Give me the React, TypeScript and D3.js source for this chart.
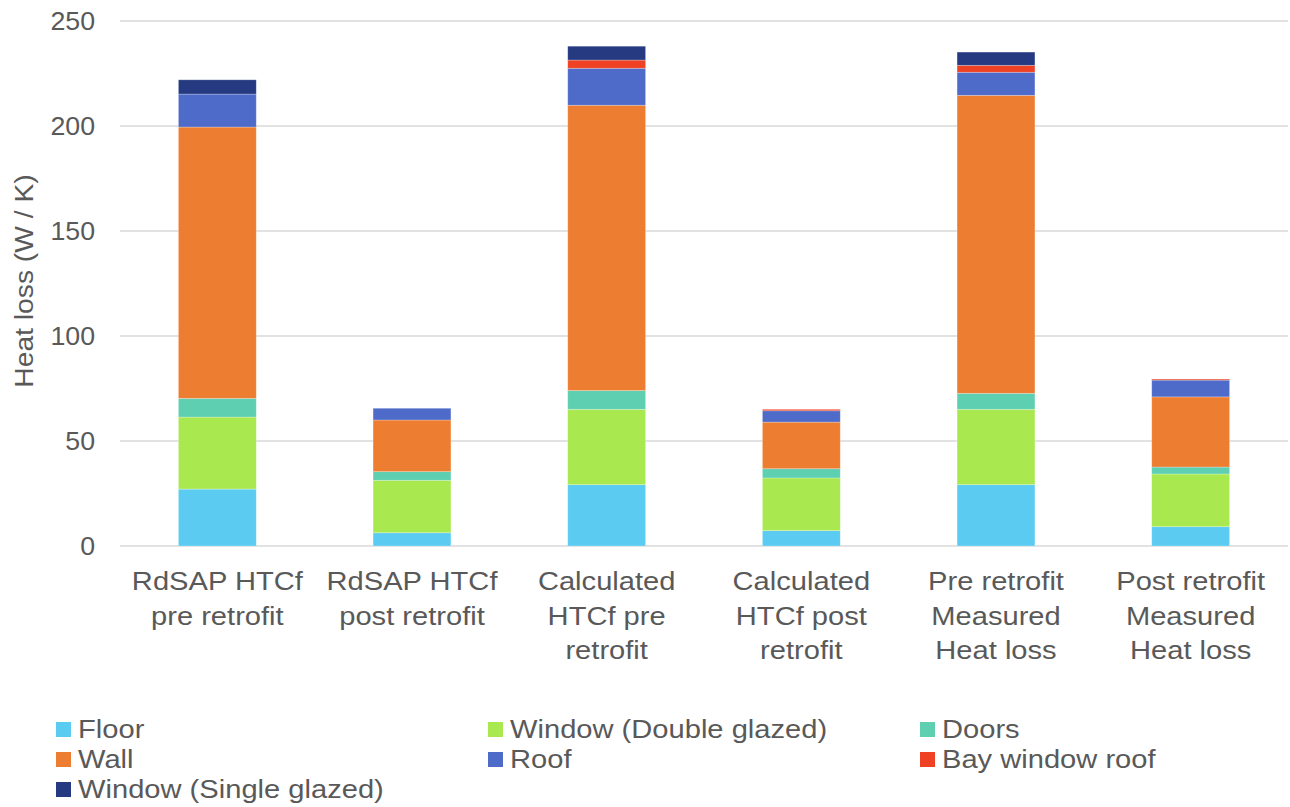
import React from "react";
import * as d3 from "d3";

const categories: string[][] = [
  ["RdSAP HTCf", "pre retrofit"],
  ["RdSAP HTCf", "post retrofit"],
  ["Calculated", "HTCf pre", "retrofit"],
  ["Calculated", "HTCf post", "retrofit"],
  ["Pre retrofit", "Measured", "Heat loss"],
  ["Post retrofit", "Measured", "Heat loss"],
];

const seriesNames = [
  "Floor",
  "Window (Double glazed)",
  "Doors",
  "Wall",
  "Roof",
  "Bay window roof",
  "Window (Single glazed)",
];

const seriesColors = ["#5ccbf2", "#a9e84f", "#5ecfb1", "#ed7d31", "#4f6bc9", "#ef4123", "#253a80"];

const floor = [27.1, 6.3, 29.2, 7.3, 29.2, 9.2];
const windowDouble = [34.3, 25.0, 35.9, 25.1, 35.9, 25.1];
const doors = [8.9, 4.1, 8.9, 4.4, 7.6, 3.3];
const wall = [129.2, 24.6, 135.9, 22.2, 141.9, 33.4];
const roof = [15.7, 5.6, 17.6, 5.4, 11.0, 8.0];
const bayRoof = [0, 0, 3.9, 0.7, 3.3, 0.5];
const windowSingle = [6.8, 0, 6.6, 0, 6.3, 0];

const yTicks = [0, 50, 100, 150, 200, 250];

const W = 1290;
const H = 807;
const left = 120;
const right = 1288;
const top = 21;
const bottom = 546;
const FONT = "'Liberation Sans', Arial, sans-serif";
const TEXT = "#595959";
const STRETCH = 1.12;

// Text drawn with a slight horizontal widening, anchored at (x, y).
function WideText(props: {
  x: number;
  y: number;
  size: number;
  anchor?: "start" | "middle" | "end";
  stretch?: number;
  dy?: string;
  children: React.ReactNode;
}) {
  const { x, y, size, anchor = "start", stretch = STRETCH, dy, children } = props;
  return (
    <g transform={`translate(${x},${y}) scale(${stretch},1)`}>
      <text x={0} y={0} dy={dy} textAnchor={anchor} fontSize={size} fill={TEXT}>
        {children}
      </text>
    </g>
  );
}

export default function App() {
  const seriesValues = [floor, windowDouble, doors, wall, roof, bayRoof, windowSingle];
  const rows = categories.map((_, i) => {
    const r: Record<string, number> = { idx: i };
    seriesNames.forEach((n, s) => (r[n] = seriesValues[s][i]));
    return r;
  });
  const stacked = d3.stack<Record<string, number>>().keys(seriesNames)(rows);

  const x = d3
    .scaleBand<number>()
    .domain(categories.map((_, i) => i))
    .range([left, right])
    .paddingInner(0.6)
    .paddingOuter(0.3);
  const y = d3.scaleLinear().domain([0, 250]).range([bottom, top]);

  const legendCols = [56, 488, 920];

  return (
    <svg
      width={W}
      height={H}
      style={{ position: "absolute", left: 0, top: 0, background: "#fff" }}
      fontFamily={FONT}
    >
      {yTicks.map((t) => (
        <g key={t}>
          <line x1={left} x2={right} y1={y(t)} y2={y(t)} stroke="#d9d9d9" strokeWidth={1.5} />
          <WideText x={95} y={y(t)} dy="0.35em" anchor="end" size={25} stretch={1.07}>
            {t}
          </WideText>
        </g>
      ))}
      <text
        transform={`translate(33, 281) rotate(-90) scale(1.13,1)`}
        textAnchor="middle"
        fontSize={25}
        fill={TEXT}
      >
        Heat loss (W / K)
      </text>

      {stacked.map((layer, s) => (
        <g key={layer.key} fill={seriesColors[s]}>
          {layer.map((d, i) =>
            d[1] - d[0] > 0 ? (
              <rect
                key={i}
                x={x(i)}
                width={x.bandwidth()}
                y={y(d[1])}
                height={y(d[0]) - y(d[1])}
                stroke="#ffffff"
                strokeOpacity={0.35}
                strokeWidth={0.75}
              />
            ) : null
          )}
        </g>
      ))}

      {categories.map((lines, i) =>
        lines.map((l, k) => (
          <WideText
            key={`${i}-${k}`}
            x={(x(i) as number) + x.bandwidth() / 2}
            y={590 + k * 34.5}
            anchor="middle"
            size={26}
          >
            {l}
          </WideText>
        ))
      )}

      {seriesNames.map((n, s) => {
        const col = s % 3;
        const row = Math.floor(s / 3);
        const lx = legendCols[col];
        const ly = 729 + row * 30;
        return (
          <g key={n}>
            <rect x={lx} y={ly - 7} width={15} height={15} fill={seriesColors[s]} />
            <WideText x={lx + 22} y={ly} dy="0.35em" size={26}>
              {n}
            </WideText>
          </g>
        );
      })}
    </svg>
  );
}
